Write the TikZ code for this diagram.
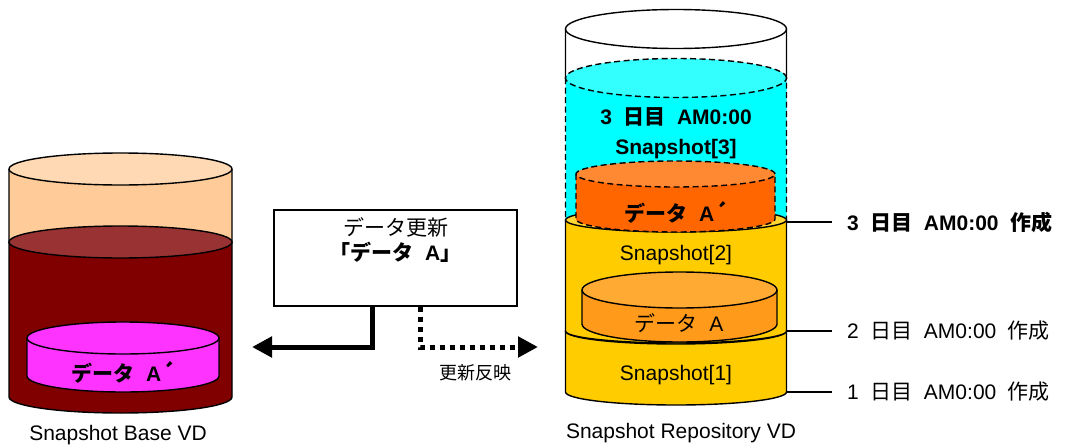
\documentclass[tikz,border=0pt]{standalone}
\usepackage{fontspec}
\setmainfont{Liberation Sans}
\newfontfamily\jp{Noto Sans CJK JP}
\usetikzlibrary{arrows.meta}
\definecolor{base peach}{HTML}{FFCC99}
\definecolor{base peach top}{HTML}{FFD9B3}
\definecolor{base maroon}{HTML}{800000}
\definecolor{base maroon top}{HTML}{993333}
\definecolor{data magenta}{HTML}{FF33FF}
\definecolor{snap cyan}{HTML}{00FFFF}
\definecolor{snap cyan top}{HTML}{33FFFF}
\definecolor{snap yellow}{HTML}{FFCC00}
\definecolor{snap yellow top}{HTML}{FFD633}
\definecolor{data orange}{HTML}{FF6600}
\definecolor{data orange top}{HTML}{FF8833}
\definecolor{data amber}{HTML}{FF9A1A}
\definecolor{data amber top}{HTML}{FFAA33}
% cylinder part: cx, rx, top y, bottom y, ry, body colour, top colour, line style
\newcommand{\cylpart}[8]{%
  \filldraw[#8, fill=#6] (#1-#2,#3) -- (#1-#2,#4)
    arc[start angle=180, end angle=360, x radius=#2, y radius=#5] -- (#1+#2,#3);
  \filldraw[#8, fill=#7] (#1,#3) ellipse[x radius=#2, y radius=#5];
}
\newcommand{\jsp}{\hspace{0.55em}}
\tikzset{
  outline/.style={draw=black, line width=1.4pt},
  dashline/.style={outline, dash pattern=on 6pt off 3.5pt},
  upd/.style={line width=5pt, -{Triangle[length=20pt, width=20pt]}},
  refl/.style={line width=5pt, dash pattern=on 5pt off 5pt, -{Triangle[length=20pt, width=20pt]}},
  leader/.style={line width=1.4pt},
  datelabel/.style={anchor=west, inner xsep=15pt, inner ysep=0pt}
}

\begin{document}
\begin{tikzpicture}[x=1pt, y=1pt, font=\fontsize{21}{25}\selectfont]
  \useasboundingbox (0,0) rectangle (1065,-447);
  % part for the base VD
  \begin{scope}
    \cylpart{120.5}{111.5}{-169}{-242}{16}{base peach}{base peach top}{outline}
    \cylpart{120.5}{111.5}{-242}{-397}{16}{base maroon}{base maroon top}{outline}
    \cylpart{123}{96}{-338}{-376}{16}{data magenta}{data magenta}{outline}
    \node[font=\fontsize{21}{25}\selectfont\bfseries] (dataAnew) at (123,-372) {{\jp データ}\jsp A{\jp ´}};
  \end{scope}
  \node (basename) at (118,-435) {Snapshot Base VD};
  % part for the repository VD
  \begin{scope}
    \cylpart{676}{110.5}{-29}{-78}{19.5}{white}{white}{outline}
    \cylpart{676}{110.5}{-78}{-220}{19.5}{snap cyan}{snap cyan top}{dashline}
    \cylpart{676}{110.5}{-331}{-392}{13}{snap yellow}{snap yellow top}{outline}
    \cylpart{676}{110.5}{-220}{-331}{12}{snap yellow}{snap yellow top}{outline}
    \cylpart{679.5}{97.5}{-290}{-324}{18}{data amber}{data amber top}{outline}
    \cylpart{675.5}{99.5}{-174}{-219}{13}{data orange}{data orange top}{dashline}
  \end{scope}
  \begin{scope}[font=\fontsize{21}{25}\selectfont\bfseries]
    \node (snap3time) at (676,-117) {3\jsp{\jp 日目}\jsp AM0:00};
    \node (snap3) at (676,-149) {Snapshot[3]};
    \node (dataAcopy) at (676,-212) {{\jp データ}\jsp A{\jp ´}};
  \end{scope}
  \node (snap2) at (676,-255) {Snapshot[2]};
  \node (dataA) at (679,-323) {{\jp データ}\jsp A};
  \node (snap1) at (676,-375) {Snapshot[1]};
  \node (reponame) at (681,-433) {Snapshot Repository VD};
  % dates of the snapshots
  \coordinate (edge3) at (786.5,-222);
  \coordinate (edge2) at (786.5,-331);
  \coordinate (edge1) at (786.5,-392);
  \node[datelabel, font=\fontsize{21}{25}\selectfont\bfseries] (date3) at (832,-222)
    {3\jsp{\jp 日目}\jsp AM0:00\jsp{\jp 作成}};
  \node[datelabel] (date2) at (832,-331) {2\jsp{\jp 日目}\jsp AM0:00\jsp{\jp 作成}};
  \node[datelabel] (date1) at (832,-392) {1\jsp{\jp 日目}\jsp AM0:00\jsp{\jp 作成}};
  \draw[leader] (edge3) -- (date3.west);
  \draw[leader] (edge2) -- (date2.west);
  \draw[leader] (edge1) -- (date1.west);
  % update box and arrows
  \node[outline, fill=white, minimum width=243pt, minimum height=96pt] (box) at (395.5,-258) {};
  \node (boxtitle) at (395.5,-227) {\jp データ更新};
  \node[font=\fontsize{21}{25}\selectfont\bfseries] (boxdata) at (395.5,-252) {{\jp 「データ}\jsp A{\jp 」}};
  \coordinate (baseIn) at (252,-347);
  \coordinate (repoIn) at (538,-347);
  \draw[upd] ([xshift=-23.5pt]box.south) |- (baseIn);
  \draw[refl] ([xshift=24.5pt]box.south) |- (repoIn);
  \node[font=\fontsize{18}{22}\selectfont\jp] (reflect) at (475,-373) {更新反映};
\end{tikzpicture}
\end{document}
